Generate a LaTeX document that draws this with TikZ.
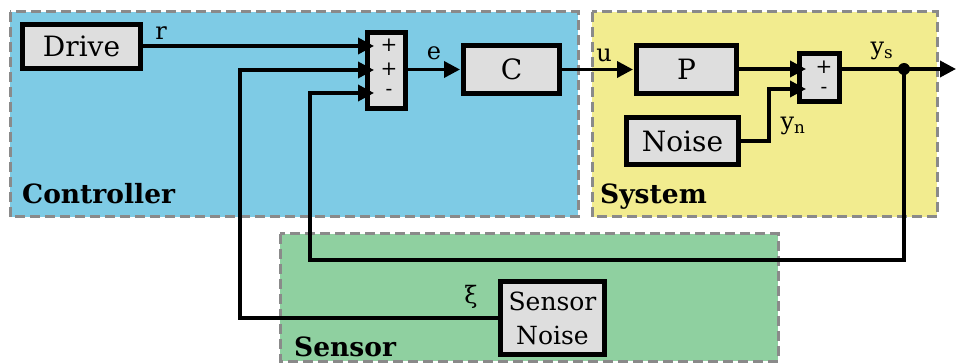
\documentclass[tikz,border=0pt]{standalone}
\usepackage{fontspec}
\setmainfont{DejaVu Serif}
\usetikzlibrary{arrows.meta}
\definecolor{ctrlc}{HTML}{7ECBE5}
\definecolor{sysc}{HTML}{F2EC8F}
\definecolor{senc}{HTML}{8FD0A0}
\definecolor{blockc}{HTML}{DEDEDE}
\definecolor{dashc}{HTML}{8A8A8A}
\begin{document}
\begin{tikzpicture}[x=1pt,y=-1pt,
  region/.style={draw=dashc, line width=3pt, dash pattern=on 10pt off 5pt},
  blockbox/.style={draw, fill=blockc, line width=5pt, font=\fontsize{28}{31}\selectfont, inner sep=0pt, align=center},
  sig/.style={line width=3.6pt, -{Triangle[length=16pt,width=16pt]}},
  lbl/.style={font=\fontsize{24}{26}\selectfont, inner sep=0pt},
  sign/.style={font=\fontsize{20}{20}\selectfont, inner sep=0pt},
  title/.style={font=\bfseries\fontsize{26.5}{28}\selectfont, anchor=base west, inner sep=0pt}]
\useasboundingbox (0,0) rectangle (956,363);
% regions
\filldraw[region, fill=ctrlc] (10,12) rectangle (578,217);
\filldraw[region, fill=sysc] (592,12) rectangle (937,217);
\filldraw[region, fill=senc] (280,234) rectangle (778,361);
\node[title] (tctrl) at (22,204) {Controller};
\node[title] (tsys) at (600,204) {System};
\node[title] (tsen) at (294,356) {Sensor};
% blocks
\node[blockbox, minimum width=118pt, minimum height=44pt] (drive) at (81.5,46.5) {Drive};
\node[blockbox, minimum width=38pt, minimum height=76pt] (sum1) at (386.5,70.5) {};
\node[blockbox, minimum width=96pt, minimum height=48pt] (c) at (511.5,69.5) {C};
\node[blockbox, minimum width=100pt, minimum height=48pt] (p) at (686.5,69.5) {P};
\node[blockbox, minimum width=40pt, minimum height=48pt] (sum2) at (819.5,77.5) {};
\node[blockbox, minimum width=112pt, minimum height=47pt] (noise) at (682.5,141) {Noise};
\node[blockbox, minimum width=104pt, minimum height=73pt, font=\fontsize{25}{34}\selectfont] (sn) at (552.5,318) {Sensor\\Noise};
% input points
\coordinate (s1a) at (374,46);
\coordinate (s1b) at (374,70);
\coordinate (s1c) at (374,93);
\coordinate (s2a) at (806,69);
\coordinate (s2b) at (806,89);
\coordinate (out) at (956,69);
\coordinate (tap) at (904,69);
\coordinate (fbd) at (904,260);
\coordinate (fbl) at (310,260);
\coordinate (snl) at (240,318);
\coordinate (nz) at (769,141);
% signs
\node[sign] (p1) at (389,45) {+};
\node[sign] (p2) at (389,69) {+};
\node[sign] (m1) at (389,92) {-};
\node[sign] (p3) at (824,67) {+};
\node[sign] (m2) at (824,90) {-};
% connectors
\draw[sig] (drive.east |- s1a) -- (s1a);
\draw[sig, shorten >=1pt] (sum1.east |- c.west) -- (c.west);
\draw[sig, shorten >=1pt] (c.east) -- (p.west);
\draw[sig] (p.east |- s2a) -- (s2a);
\draw[sig] (noise.east) -- (nz) -- (nz |- s2b) -- (s2b);
\draw[sig] (sum2.east |- out) -- (out);
\draw[sig] (tap) -- (fbd) -- (fbl) -- (fbl |- s1c) -- (s1c);
\draw[sig] (sn.west |- snl) -- (snl) -- (snl |- s1b) -- (s1b);
\fill (tap) circle (6pt);
% labels
\node[lbl] (lr) at (161,33) {r};
\node[lbl] (le) at (434,53) {e};
\node[lbl] (lu) at (604,55) {u};
\node[lbl] (lys) at (882,51) {y\textsubscript{s}};
\node[lbl] (lyn) at (793,126) {y\textsubscript{n}};
\node[lbl] (lxi) at (471,297) {ξ};
\end{tikzpicture}
\end{document}
